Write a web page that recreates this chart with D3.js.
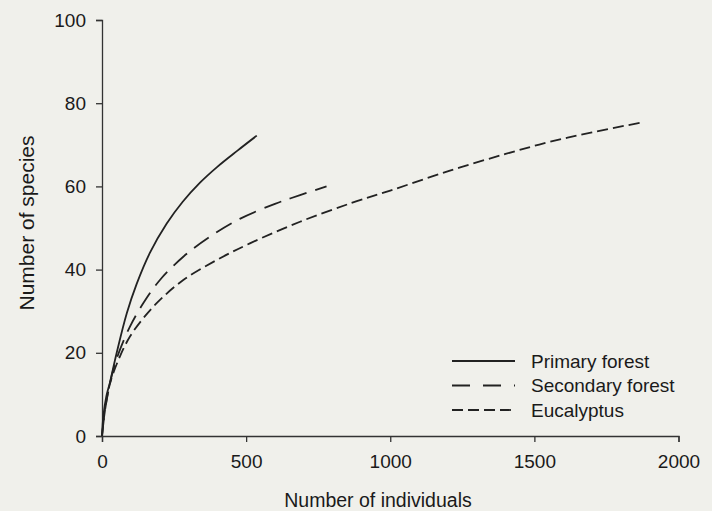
<!DOCTYPE html>
<html>
<head>
<meta charset="utf-8">
<script src="https://cdn.jsdelivr.net/npm/d3@7"></script>
<style>
  body { margin: 0; background: #f0f0eb; }
  svg { display: block; font-family: 'Liberation Sans', Arial, sans-serif; }
</style>
</head>
<body>
<div id="chart"></div>
<script>
// rarefaction curves, values: [individuals, species]
const primaryForest = [
  [0, 0], [5, 5], [15, 9.5], [28, 13], [51, 20], [86, 29.5], [120, 36.5],
  [166, 44], [224, 51], [280, 56.3], [340, 60.9], [400, 64.7], [470, 68.6], [537, 72.2]
]
const secondaryForest = [
  [0, 0], [10, 6], [20, 10], [39, 15.9], [62, 20.7], [97, 26.3], [143, 31.9],
  [201, 37.5], [282, 43.1], [374, 47.9], [478, 52.2], [600, 55.8], [687, 57.9], [779, 60]
]
const eucalyptus = [
  [0, 0], [10, 6], [28, 12.7], [62, 19.1], [97, 23.9], [143, 28.3], [201, 32.7],
  [282, 37.5], [398, 42.3], [513, 46.3], [687, 51.5], [865, 56], [1000, 59],
  [1207, 63.8], [1400, 67.8], [1553, 70.7], [1700, 73], [1868, 75.3]
]
const seriesNames = ['Primary forest', 'Secondary forest', 'Eucalyptus']
const xTicks = [0, 500, 1000, 1500, 2000]
const yTicks = [0, 20, 40, 60, 80, 100]

const width = 712
const height = 511
const margin = { top: 20, left: 102, right: 33.5, bottom: 75 }

const svg = d3
  .select('#chart')
  .append('svg')
  .attr('width', width)
  .attr('height', height)

const xPositionScale = d3.scaleLinear()
  .domain([0, 2000])
  .range([margin.left, width - margin.right])

const yPositionScale = d3.scaleLinear()
  .domain([0, 100])
  .range([height - margin.bottom, margin.top])

const dashes = {
  'Primary forest': null,
  'Secondary forest': '18,9',
  'Eucalyptus': '11,5'
}

const series = [
  { name: seriesNames[0], values: primaryForest },
  { name: seriesNames[1], values: secondaryForest },
  { name: seriesNames[2], values: eucalyptus }
]

/* axes */
const xAxis = d3.axisBottom(xPositionScale)
  .tickValues(xTicks)
  .tickFormat(d3.format('d'))
  .tickSize(6)
  .tickPadding(13)
svg.append('g')
  .attr('class', 'axis x-axis')
  .attr('transform', 'translate(0,' + yPositionScale(0) + ')')
  .call(xAxis)

const yAxis = d3.axisLeft(yPositionScale)
  .tickValues(yTicks)
  .tickFormat(d3.format('d'))
  .tickSize(6)
  .tickPadding(10)
svg.append('g')
  .attr('class', 'axis y-axis')
  .attr('transform', 'translate(' + xPositionScale(0) + ',0)')
  .call(yAxis)

svg.selectAll('.axis path, .axis line')
  .attr('stroke', '#333')
  .attr('stroke-width', 1.3)
svg.selectAll('.axis text')
  .attr('font-size', 19)
  .attr('font-family', "'Liberation Sans', Arial, sans-serif")
  .attr('fill', '#1a1a1a')

// axis titles
svg.append('text')
  .text('Number of individuals')
  .attr('x', 378)
  .attr('y', 507)
  .attr('text-anchor', 'middle')
  .attr('font-size', 19.5)
  .attr('fill', '#1a1a1a')

svg.append('text')
  .text('Number of species')
  .attr('transform', 'translate(34,223) rotate(-90)')
  .attr('text-anchor', 'middle')
  .attr('font-size', 21)
  .attr('fill', '#1a1a1a')

/* curves */
const line = d3.line()
  .x(d => xPositionScale(d[0]))
  .y(d => yPositionScale(d[1]))
  .curve(d3.curveCatmullRom)

svg.selectAll('.curve')
  .data(series)
  .enter()
  .append('path')
  .attr('class', 'curve')
  .attr('d', d => line(d.values))
  .attr('fill', 'none')
  .attr('stroke', '#222')
  .attr('stroke-width', 1.8)
  .attr('stroke-dasharray', d => dashes[d.name])

/* legend */
const legend = svg.append('g').attr('transform', 'translate(452,361)')

legend.selectAll('.legend-entry')
  .data(seriesNames)
  .enter()
  .append('g')
  .attr('class', 'legend-entry')
  .attr('transform', (d, i) => `translate(0,${i * 24.5})`)
  .each(function(d) {
    const g = d3.select(this)
    g.append('line')
      .attr('x1', 0)
      .attr('x2', 63)
      .attr('y1', 0)
      .attr('y2', 0)
      .attr('stroke', '#222')
      .attr('stroke-width', 1.8)
      .attr('stroke-dasharray', d === 'Secondary forest' ? '18,13' : dashes[d])
    g.append('text')
      .text(d)
      .attr('x', 79)
      .attr('y', 0)
      .attr('dy', '0.35em')
      .attr('font-size', 19)
      .attr('fill', '#1a1a1a')
  })
</script>
</body>
</html>
